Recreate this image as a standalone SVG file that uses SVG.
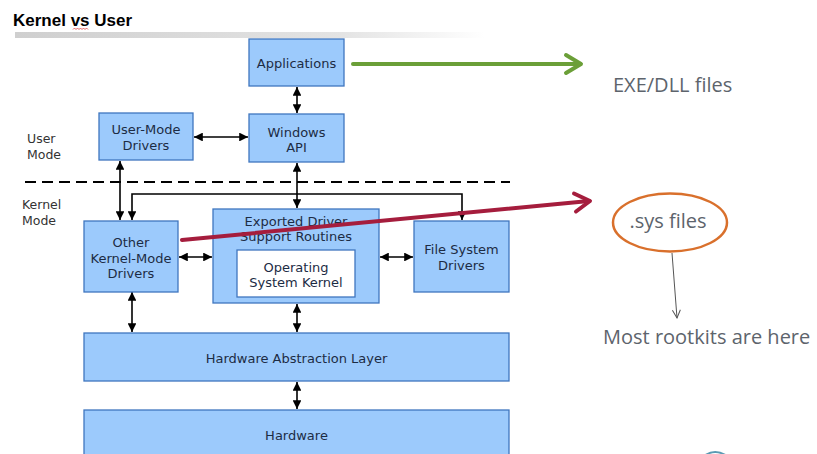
<svg xmlns="http://www.w3.org/2000/svg" width="817" height="454" viewBox="0 0 817 454">
<style>
.box{fill:#9ccafc;stroke:#3f76bf;stroke-width:1.3}
.inner{fill:#ffffff;stroke:#3f76bf;stroke-width:1.3}
.bt{font-family:"DejaVu Sans",Verdana,sans-serif;font-size:13px;fill:#1c2c44;text-anchor:middle}
.mode{font-family:"DejaVu Sans",Verdana,sans-serif;font-size:12.5px;fill:#333}
.conn{stroke:#000;stroke-width:1.6;fill:none;marker-start:url(#ah);marker-end:url(#ah)}
.rt{font-family:"Open Sans","Liberation Sans",sans-serif;font-size:20px;fill:#5d646c}
</style>
<defs>
<marker id="ah" viewBox="0 0 10 10" refX="10" refY="5" markerWidth="5.5" markerHeight="5.5" orient="auto-start-reverse">
<path d="M0,0 L10,5 L0,10 z" fill="#000"/>
</marker>
<marker id="gh" viewBox="0 0 10 10" refX="9" refY="5" markerWidth="10" markerHeight="10" orient="auto" markerUnits="userSpaceOnUse">
<path d="M1,1 L9,5 L1,9" fill="none" stroke="#555" stroke-width="1"/>
</marker>
<linearGradient id="bar" x1="0" x2="1" y1="0" y2="0">
<stop offset="0" stop-color="#cfcfcf"/>
<stop offset="0.7" stop-color="#e4e4e4"/>
<stop offset="1" stop-color="#ffffff"/>
</linearGradient>
</defs>
<rect width="817" height="454" fill="#ffffff"/>
<g id="title">
<text x="13" y="26" font-family="Liberation Sans,Arial,sans-serif" font-weight="bold" font-size="17" fill="#000">Kernel vs User</text>
<path d="M73,29.5 l1.5,-1.5 l1.5,1.5 l1.5,-1.5 l1.5,1.5 l1.5,-1.5 l1.5,1.5 l1.5,-1.5 l1.5,1.5 l1.5,-1.5 l1.5,1.5" fill="none" stroke="#d22" stroke-width="0.7"/>
<rect x="15" y="32" width="470" height="6" fill="url(#bar)"/>
</g>
<g id="modes">
<text class="mode" x="27" y="143">User</text>
<text class="mode" x="27" y="159">Mode</text>
<line x1="25" y1="182" x2="510" y2="182" stroke="#000" stroke-width="2" stroke-dasharray="11 6"/>
<text class="mode" x="22" y="209">Kernel</text>
<text class="mode" x="22" y="225">Mode</text>
</g>
<g id="connectors">
<line class="conn" x1="297" y1="87" x2="297" y2="113"/>
<line class="conn" x1="194" y1="137" x2="248" y2="137"/>
<line class="conn" x1="120" y1="161" x2="120" y2="220"/>
<line class="conn" x1="297" y1="163" x2="297" y2="208"/>
<path class="conn" d="M132,220 V194 H462 V220"/>
<line class="conn" x1="179" y1="257" x2="212" y2="257"/>
<line class="conn" x1="380" y1="257" x2="413" y2="257"/>
<line class="conn" x1="132" y1="292" x2="132" y2="332"/>
<line class="conn" x1="297" y1="304" x2="297" y2="332"/>
<line class="conn" x1="297" y1="382" x2="297" y2="409"/>
</g>
<g id="applications">
<rect class="box" x="249" y="39" width="95" height="47"/>
<text class="bt" x="296.5" y="68">Applications</text>
</g>
<g id="windows-api">
<rect class="box" x="249" y="114" width="95" height="48"/>
<text class="bt" x="296.5" y="137">Windows</text>
<text class="bt" x="296.5" y="152">API</text>
</g>
<g id="user-mode-drivers">
<rect class="box" x="99" y="113" width="94" height="47"/>
<text class="bt" x="146" y="134">User-Mode</text>
<text class="bt" x="146" y="150">Drivers</text>
</g>
<g id="other-kernel-mode-drivers">
<rect class="box" x="84" y="221" width="94" height="71"/>
<text class="bt" x="131" y="247">Other</text>
<text class="bt" x="131" y="263">Kernel-Mode</text>
<text class="bt" x="131" y="278">Drivers</text>
</g>
<g id="exported-driver-support-routines">
<rect class="box" x="213" y="209" width="166" height="94"/>
<text class="bt" x="296" y="226">Exported Driver</text>
<text class="bt" x="296" y="241">Support Routines</text>
</g>
<g id="operating-system-kernel">
<rect class="inner" x="237" y="250" width="118" height="47"/>
<text class="bt" x="296" y="272">Operating</text>
<text class="bt" x="296" y="287">System Kernel</text>
</g>
<g id="file-system-drivers">
<rect class="box" x="414" y="221" width="95" height="71"/>
<text class="bt" x="461.5" y="254">File System</text>
<text class="bt" x="461.5" y="270">Drivers</text>
</g>
<g id="hal">
<rect class="box" x="84" y="333" width="425" height="48"/>
<text class="bt" x="296.5" y="363" font-size="12.5">Hardware Abstraction Layer</text>
</g>
<g id="hardware">
<rect class="box" x="84" y="410" width="425" height="52"/>
<text class="bt" x="296.5" y="440" font-size="12.5">Hardware</text>
</g>
<g id="annotations">
<line x1="353" y1="64" x2="580" y2="64" stroke="#6b9f38" stroke-width="4" stroke-linecap="round"/>
<polyline points="566,55 581,64 566,73" fill="none" stroke="#6b9f38" stroke-width="4" stroke-linecap="round" stroke-linejoin="round"/>
<text class="rt" x="613" y="92">EXE/DLL files</text>
<line x1="182" y1="240" x2="589" y2="201" stroke="#a51d3d" stroke-width="4" stroke-linecap="round"/>
<polyline points="574,193.5 590,201 576,211.5" fill="none" stroke="#a51d3d" stroke-width="4" stroke-linecap="round" stroke-linejoin="round"/>
<ellipse cx="670" cy="222.5" rx="57" ry="29" fill="none" stroke="#d9702c" stroke-width="2.5"/>
<text class="rt" x="668" y="228" text-anchor="middle">.sys files</text>
<line x1="672" y1="253" x2="677" y2="318" stroke="#555" stroke-width="1" marker-end="url(#gh)"/>
<text class="rt" x="603" y="344">Most rootkits are here</text>
<path d="M704,456 Q715,448 727,456" fill="none" stroke="#5a9ab3" stroke-width="2"/>
</g>
</svg>
